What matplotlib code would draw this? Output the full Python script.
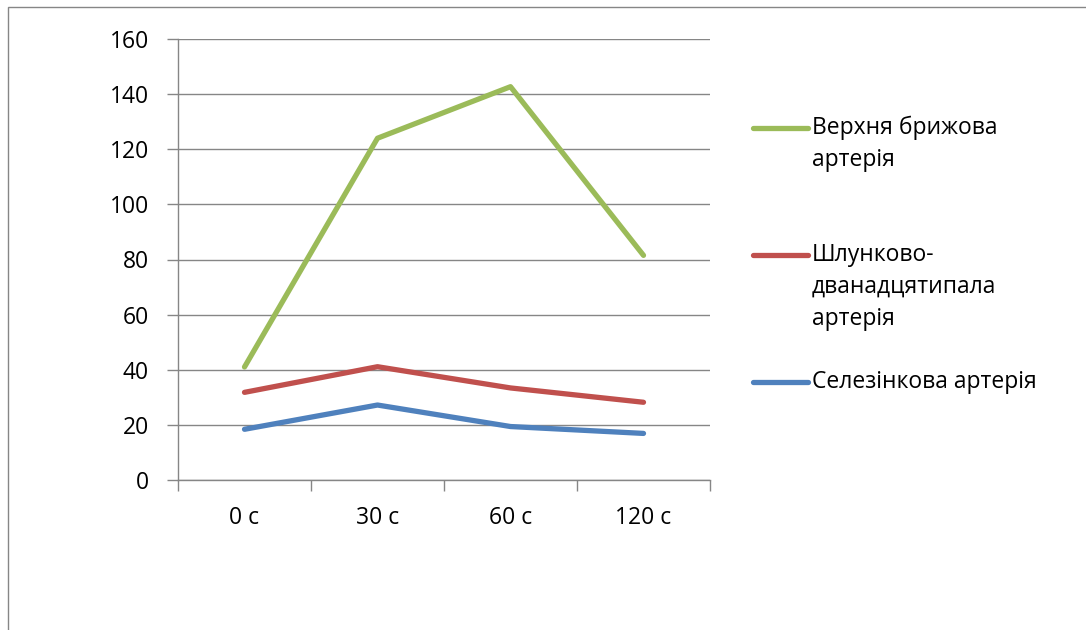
import matplotlib.pyplot as plt
import matplotlib.patches as patches
from matplotlib.lines import Line2D
import numpy as np

# Дані: час після введення та значення для трьох артерій
categories = ["0 с", "30 с", "60 с", "120 с"]
verkhnia = [41, 124, 142.7, 81.5]
shlunkovo = [31.8, 41.1, 33.4, 28.2]
selezinkova = [18.4, 27.2, 19.4, 16.9]

series_names = [["Верхня брижова", "артерія"],
                ["Шлунково-", "дванадцятипала", "артерія"],
                ["Селезінкова артерія"]]
series_colors = ["#9BBB59", "#C0504D", "#4F81BD"]
y_ticks = [0, 20, 40, 60, 80, 100, 120, 140, 160]

W, H = 1086, 630
grey = "#868686"
font = "Open Sans"
fs = 16.5

fig = plt.figure(figsize=(W / 100, H / 100), dpi=100)
ax = fig.add_axes([178 / W, 1 - 480 / H, (710 - 178) / W, (480 - 39) / H])

x = np.arange(len(categories))
for vals, col in zip([verkhnia, shlunkovo, selezinkova], series_colors):
    ax.plot(x, vals, color=col, lw=3.8, solid_capstyle="round",
            solid_joinstyle="round", zorder=3)

ax.set_xlim(-0.5, len(categories) - 0.5)
ax.set_ylim(0, 160)
ax.set_yticks(y_ticks)
ax.set_yticklabels([str(v) for v in y_ticks], fontsize=fs, family=font)
ax.yaxis.grid(True, color=grey, lw=1)
ax.set_axisbelow(True)

# підписи категорій по центру, поділки між категоріями
ax.set_xticks(np.arange(len(categories) + 1) - 0.5)
ax.set_xticklabels([])
ax.set_xticks(x, minor=True)
ax.set_xticklabels(categories, minor=True, fontsize=fs, family=font)
ax.tick_params(axis="x", which="major", length=8, color=grey, width=1, direction="out")
ax.tick_params(axis="x", which="minor", length=0, pad=19)
ax.tick_params(axis="y", length=8, color=grey, width=1, direction="out", pad=13)

for side in ["top", "right"]:
    ax.spines[side].set_visible(False)
for side in ["left", "bottom"]:
    ax.spines[side].set_color(grey)
    ax.spines[side].set_linewidth(1)

# рамка області діаграми
fig.add_artist(patches.Rectangle((8 / W, -0.1), 1.2, 1.1 - 7 / H,
                                 fill=False, edgecolor=grey, lw=1,
                                 transform=fig.transFigure))

# легенда: лінія на рівні першого рядка підпису
legend_y = [128, 255, 382]
line_step = 32
for lines, col, ly in zip(series_names, series_colors, legend_y):
    fig.add_artist(Line2D([753 / W, 808 / W], [1 - ly / H, 1 - ly / H],
                          color=col, lw=3.8, solid_capstyle="round",
                          transform=fig.transFigure))
    for i, txt in enumerate(lines):
        fig.text(812 / W, 1 - (ly + i * line_step) / H, txt, fontsize=fs,
                 family=font, va="center", ha="left")

fig.savefig("out.png", dpi=100)
